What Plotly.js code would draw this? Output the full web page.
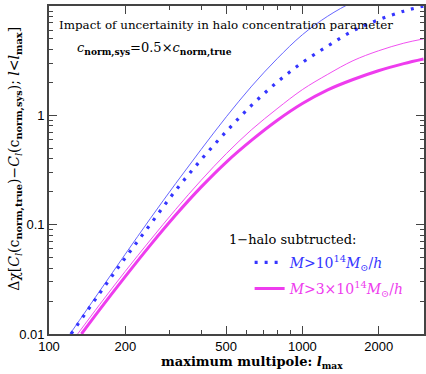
<!DOCTYPE html>
<html>
<head>
<meta charset="utf-8">
<script src="https://cdn.plot.ly/plotly-3.0.1.min.js"></script>
<style>
  html, body { margin: 0; padding: 0; background: #fff; }
  #chart { width: 426px; height: 374px; }
</style>
</head>
<body>
<div id="chart"></div>
<script>
// values (l_max, delta chi)
const lmaxThinBlue = [121, 158.5, 199.5, 251.2, 316.2, 398.1, 501.2, 631, 794.3, 1000, 1259, 1585, 1995];
const chiThinBlue = [0.01, 0.0247, 0.0533, 0.114, 0.238, 0.486, 0.971, 1.85, 3.29, 5.46, 8.07, 10.9, 13.7];

const lmaxDotBlue = [122.2, 158.5, 199.5, 251.2, 316.2, 398.1, 501.2, 631, 794.3, 1000, 1259, 1585, 1995, 2512, 3000];
const chiDotBlue = [0.01, 0.0236, 0.0493, 0.1007, 0.2056, 0.392, 0.713, 1.239, 2.009, 3.04, 4.30, 5.93, 7.46, 8.97, 9.98];

const lmaxThinMag = [129.7, 158.5, 199.5, 251.2, 316.2, 398.1, 501.2, 631, 794.3, 1000, 1259, 1585, 1995, 2512, 3006];
const chiThinMag = [0.01, 0.0186, 0.0372, 0.0724, 0.138, 0.254, 0.447, 0.741, 1.148, 1.718, 2.371, 3.162, 3.89, 4.57, 5.0];

const lmaxThickMag = [134.3, 158.5, 199.5, 251.2, 316.2, 398.1, 501.2, 631, 794.3, 1000, 1259, 1585, 1995, 2512, 3006];
const chiThickMag = [0.01, 0.0167, 0.0333, 0.065, 0.1225, 0.2203, 0.374, 0.593, 0.897, 1.282, 1.71, 2.128, 2.559, 2.972, 3.281];

const xTicks = [100, 200, 500, 1000, 2000];
const xMinor = [300, 400, 600, 700, 800, 900, 3000];
const yTicks = [0.01, 0.1, 1, 10];
const yTickText = ["0.01", "0.1", "1", "10"];
const yMinor = [0.02, 0.03, 0.04, 0.05, 0.06, 0.07, 0.08, 0.09,
  0.2, 0.3, 0.4, 0.5, 0.6, 0.7, 0.8, 0.9, 2, 3, 4, 5, 6, 7, 8, 9];

const blue = "#3535ff";
const magenta = "#ee3cee";
const serif = "DejaVu Serif, serif";

const traces = [
  { x: lmaxThinBlue, y: chiThinBlue, mode: "lines", line: { color: "#5555ff", width: 0.9, shape: "spline" }, showlegend: false },
  { x: lmaxDotBlue, y: chiDotBlue, mode: "lines", line: { color: blue, width: 3.2, dash: "3px,7px", shape: "spline" },
    legendgroup: "a",
    name: '<span style="color:#3535ff"><i>M</i>&gt;10<sup>14</sup><i>M</i><sub>⊙</sub>/<i>h</i></span>' },
  { x: lmaxThinMag, y: chiThinMag, mode: "lines", line: { color: magenta, width: 0.9, shape: "spline" }, showlegend: false },
  { x: lmaxThickMag, y: chiThickMag, mode: "lines", line: { color: magenta, width: 3, shape: "spline" },
    legendgroup: "b",
    name: '<span style="color:#ee3cee"><i>M</i>&gt;3×10<sup>14</sup><i>M</i><sub>⊙</sub>/<i>h</i></span>' }
];

const axisCommon = {
  showgrid: false, zeroline: false, showline: true, linecolor: "#444", linewidth: 1.6,
  ticks: "inside", ticklen: 8, tickwidth: 1, tickcolor: "#444", mirror: "allticks",
  tickfont: { family: "Liberation Sans, Arial, sans-serif", size: 13, color: "#000" }
};

Plotly.newPlot("chart", traces, {
  width: 426, height: 374,
  margin: { l: 49, r: 2, t: 6, b: 40 },
  paper_bgcolor: "#fff", plot_bgcolor: "#fff",
  xaxis: Object.assign({}, axisCommon, {
    type: "log", range: [2, 3.48],
    tickmode: "array", tickvals: xTicks, ticktext: xTicks.map(String),
    minor: { tickmode: "array", tickvals: xMinor, ticks: "inside", ticklen: 4, tickcolor: "#444" }
  }),
  yaxis: Object.assign({}, axisCommon, {
    type: "log", range: [-2, 1],
    tickmode: "array", tickvals: yTicks, ticktext: yTickText,
    minor: { tickmode: "array", tickvals: yMinor, ticks: "inside", ticklen: 4, tickcolor: "#444" }
  }),
  legend: {
    x: 0.535, y: 0.266, xanchor: "left", yanchor: "top",
    bgcolor: "rgba(0,0,0,0)", font: { family: serif, size: 14 },
    tracegroupgap: 5
  },
  annotations: [
    { text: "Impact of uncertainity in halo concentration parameter", xref: "paper", yref: "paper",
      x: 0.02, y: 0.942, xanchor: "left", yanchor: "middle", showarrow: false,
      font: { family: serif, size: 11.9, color: "#000" } },
    { text: "<i>c</i><sub><b>norm,sys</b></sub>=0.5×<i>c</i><sub><b>norm,true</b></sub>", xref: "paper", yref: "paper",
      x: 0.07, y: 0.868, xanchor: "left", yanchor: "middle", showarrow: false,
      font: { family: serif, size: 13, color: "#000" } },
    { text: "1−halo subtructed:", xref: "paper", yref: "paper",
      x: 0.475, y: 0.289, xanchor: "left", yanchor: "middle", showarrow: false,
      font: { family: serif, size: 13, color: "#000" } },
    { text: "<b>maximum multipole: <i>l</i><sub>max</sub></b>", xref: "paper", yref: "paper",
      x: 0.54, y: -0.088, xanchor: "center", yanchor: "middle", showarrow: false,
      font: { family: serif, size: 13, color: "#000" } },
    { text: "Δχ[<i>C</i><sub><i>l</i></sub>(c<sub><b>norm,true</b></sub>)−<i>C</i><sub><i>l</i></sub>(c<sub><b>norm,sys</b></sub>); <i>l</i>&lt;<i>l</i><sub><b>max</b></sub>]",
      xref: "paper", yref: "paper", x: -0.088, y: 0.534, xanchor: "center", yanchor: "middle",
      textangle: -90, showarrow: false, font: { family: serif, size: 14, color: "#000" } }
  ]
}, { displayModeBar: false });
</script>
</body>
</html>
